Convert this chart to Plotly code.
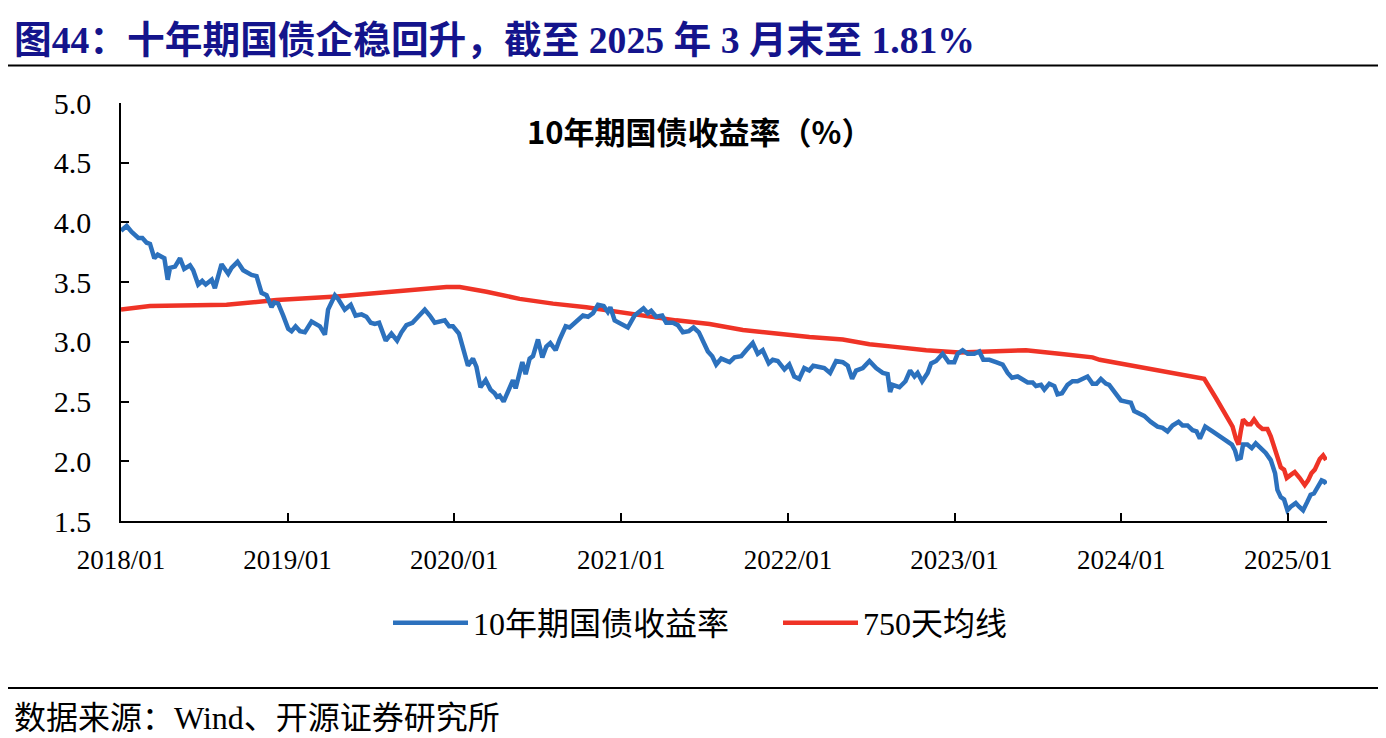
"""10年期国债收益率与750天均线."""
import pandas as pd
import plotly.graph_objects as go

# time is in years after 2018-01-01
bond_t = [
    0.000, 0.034, 0.064, 0.104, 0.128, 0.154, 0.174, 0.200, 0.220, 0.260,
    0.280, 0.294, 0.324, 0.354, 0.379, 0.414, 0.433, 0.463, 0.487, 0.508,
    0.544, 0.563, 0.603, 0.643, 0.663, 0.699, 0.733, 0.783, 0.813, 0.843,
    0.873, 0.903, 0.919, 0.943, 0.973, 1.003, 1.023, 1.047, 1.073, 1.103,
    1.143, 1.163, 1.193, 1.223, 1.242, 1.283, 1.302, 1.342, 1.378, 1.407,
    1.443, 1.472, 1.498, 1.522, 1.548, 1.588, 1.622, 1.656, 1.682, 1.712,
    1.748, 1.782, 1.822, 1.852, 1.882, 1.942, 1.968, 1.991, 2.027, 2.051,
    2.081, 2.111, 2.132, 2.156, 2.187, 2.216, 2.241, 2.255, 2.271, 2.295,
    2.321, 2.351, 2.367, 2.391, 2.407, 2.427, 2.451, 2.471, 2.501, 2.527,
    2.551, 2.575, 2.607, 2.631, 2.667, 2.691, 2.727, 2.771, 2.801, 2.831,
    2.861, 2.895, 2.920, 2.935, 2.961, 2.991, 3.020, 3.040, 3.080, 3.110,
    3.134, 3.160, 3.180, 3.210, 3.246, 3.270, 3.310, 3.340, 3.370, 3.406,
    3.434, 3.466, 3.500, 3.520, 3.546, 3.570, 3.600, 3.626, 3.650, 3.680,
    3.720, 3.750, 3.789, 3.819, 3.849, 3.885, 3.909, 3.939, 3.979, 4.008,
    4.038, 4.068, 4.098, 4.128, 4.152, 4.188, 4.218, 4.253, 4.289, 4.329,
    4.359, 4.385, 4.409, 4.449, 4.489, 4.529, 4.569, 4.598, 4.613, 4.628,
    4.669, 4.705, 4.733, 4.759, 4.778, 4.805, 4.838, 4.859, 4.889, 4.928,
    4.964, 4.998, 5.018, 5.048, 5.078, 5.118, 5.148, 5.172, 5.208, 5.248,
    5.288, 5.318, 5.344, 5.378, 5.408, 5.438, 5.468, 5.488, 5.518, 5.538,
    5.568, 5.598, 5.617, 5.644, 5.677, 5.707, 5.737, 5.767, 5.797, 5.827,
    5.851, 5.877, 5.907, 5.927, 5.967, 5.997, 6.027, 6.057, 6.077, 6.107,
    6.137, 6.177, 6.217, 6.247, 6.277, 6.307, 6.343, 6.367, 6.397, 6.427,
    6.451, 6.471, 6.503, 6.547, 6.587, 6.627, 6.663, 6.682, 6.696, 6.716,
    6.730, 6.756, 6.782, 6.806, 6.836, 6.866, 6.896, 6.922, 6.936, 6.956,
    6.976, 6.996, 7.016, 7.046, 7.066, 7.090, 7.115, 7.135, 7.155, 7.181,
    7.201, 7.218, 7.228,
]
bond_yield = [
    3.93, 3.97, 3.92, 3.87, 3.87, 3.83, 3.82, 3.70, 3.73, 3.70,
    3.52, 3.62, 3.63, 3.70, 3.61, 3.64, 3.60, 3.48, 3.51, 3.48,
    3.52, 3.45, 3.65, 3.57, 3.62, 3.67, 3.60, 3.56, 3.55, 3.41,
    3.39, 3.29, 3.33, 3.32, 3.22, 3.11, 3.09, 3.13, 3.09, 3.08,
    3.17, 3.15, 3.13, 3.06, 3.27, 3.39, 3.36, 3.27, 3.31, 3.22,
    3.23, 3.21, 3.16, 3.15, 3.16, 3.01, 3.07, 3.01, 3.08, 3.14,
    3.16, 3.21, 3.27, 3.22, 3.16, 3.18, 3.13, 3.13, 3.07, 2.95,
    2.80, 2.86, 2.79, 2.62, 2.68, 2.60, 2.57, 2.54, 2.55, 2.50,
    2.58, 2.68, 2.61, 2.73, 2.83, 2.73, 2.86, 2.88, 3.02, 2.87,
    2.96, 2.99, 2.93, 3.02, 3.13, 3.12, 3.16, 3.22, 3.21, 3.24,
    3.31, 3.30, 3.25, 3.29, 3.18, 3.16, 3.14, 3.12, 3.22, 3.26,
    3.28, 3.24, 3.26, 3.21, 3.22, 3.16, 3.16, 3.14, 3.08, 3.09,
    3.12, 3.08, 2.97, 2.92, 2.88, 2.81, 2.86, 2.84, 2.83, 2.87,
    2.88, 2.93, 2.99, 2.90, 2.93, 2.82, 2.85, 2.84, 2.77, 2.81,
    2.71, 2.69, 2.78, 2.76, 2.80, 2.79, 2.78, 2.74, 2.84, 2.83,
    2.80, 2.69, 2.76, 2.78, 2.84, 2.78, 2.74, 2.73, 2.58, 2.64,
    2.62, 2.67, 2.76, 2.71, 2.74, 2.67, 2.74, 2.82, 2.84, 2.90,
    2.83, 2.83, 2.90, 2.93, 2.90, 2.90, 2.92, 2.85, 2.85, 2.83,
    2.81, 2.74, 2.70, 2.71, 2.68, 2.66, 2.66, 2.63, 2.64, 2.60,
    2.65, 2.63, 2.56, 2.57, 2.64, 2.67, 2.67, 2.69, 2.71, 2.65,
    2.65, 2.69, 2.65, 2.64, 2.57, 2.51, 2.50, 2.49, 2.42, 2.40,
    2.38, 2.33, 2.29, 2.28, 2.25, 2.30, 2.33, 2.30, 2.30, 2.26,
    2.25, 2.19, 2.29, 2.25, 2.21, 2.18, 2.14, 2.09, 2.02, 2.03,
    2.14, 2.14, 2.11, 2.15, 2.11, 2.07, 2.01, 1.90, 1.76, 1.70,
    1.68, 1.59, 1.62, 1.65, 1.62, 1.59, 1.66, 1.72, 1.73, 1.80,
    1.84, 1.83, 1.81,
]

ma_t = [
    0.000, 0.174, 0.633, 0.933, 1.293, 1.632, 1.832, 1.952, 2.032, 2.192,
    2.391, 2.591, 2.791, 2.991, 3.130, 3.330, 3.530, 3.730, 3.930, 4.129,
    4.329, 4.489, 4.628, 4.829, 5.028, 5.228, 5.428, 5.628, 5.827, 5.870,
    6.027, 6.167, 6.307, 6.397, 6.497, 6.567, 6.647, 6.667, 6.687, 6.703,
    6.716, 6.730, 6.756, 6.776, 6.796, 6.821, 6.846, 6.876, 6.896, 6.916,
    6.936, 6.956, 6.976, 6.992, 7.010, 7.040, 7.070, 7.100, 7.120, 7.140,
    7.160, 7.190, 7.210, 7.222, 7.228,
]
ma_750 = [
    3.27, 3.30, 3.31, 3.35, 3.38, 3.42, 3.45, 3.46, 3.46, 3.42,
    3.36, 3.32, 3.29, 3.25, 3.22, 3.18, 3.15, 3.10, 3.07, 3.04,
    3.02, 2.98, 2.96, 2.93, 2.91, 2.92, 2.93, 2.90, 2.87, 2.85,
    2.81, 2.77, 2.74, 2.72, 2.69, 2.53, 2.35, 2.29, 2.19, 2.14,
    2.25, 2.35, 2.31, 2.31, 2.35, 2.30, 2.27, 2.27, 2.21, 2.12,
    2.01, 1.95, 1.93, 1.86, 1.88, 1.91, 1.86, 1.80, 1.84, 1.90,
    1.93, 2.02, 2.05, 2.03, 2.01,
]

y_ticks = [1.5, 2.0, 2.5, 3.0, 3.5, 4.0, 4.5, 5.0]
x_ticks = ['2018-01-01', '2019-01-01', '2020-01-01', '2021-01-01',
           '2022-01-01', '2023-01-01', '2024-01-01', '2025-01-01']


def to_dates(years):
    start = pd.Timestamp('2018-01-01')
    return [start + pd.to_timedelta(y * 365.25, unit='D') for y in years]


SERIF = 'Liberation Serif, Noto Sans CJK SC'
fig = go.Figure()
fig.add_trace(go.Scatter(x=to_dates(ma_t), y=ma_750, name='750天均线', mode='lines',
                         line=dict(color='#EF3326', width=4.5), legendrank=2))
fig.add_trace(go.Scatter(x=to_dates(bond_t), y=bond_yield, name='10年期国债收益率', mode='lines',
                         line=dict(color='#2C71BD', width=4.5), legendrank=1))

# page has an 8px body margin, so the figure is a bit smaller than the window
fig.update_layout(
    width=1378, height=730,
    margin=dict(l=113, r=59, t=95, b=217),
    paper_bgcolor='white', plot_bgcolor='white',
    font=dict(family=SERIF, color='black'),
    showlegend=True,
    legend=dict(orientation='h', x=0.2214, xanchor='left', y=-0.244, yanchor='middle',
                font=dict(size=32, family=SERIF), itemwidth=75, entrywidth=300,
                bgcolor='rgba(0,0,0,0)'),
)
fig.update_xaxes(
    range=['2018-01-01', '2025-03-27'], tickvals=x_ticks, tickformat='%Y/%m',
    showline=True, linecolor='black', linewidth=1.5, ticks='inside', ticklen=8,
    tickcolor='black', tickwidth=1.5, showgrid=False, zeroline=False,
    tickfont=dict(size=27, family=SERIF), ticklabelstandoff=14,
)
fig.update_yaxes(
    range=[1.5, 5.0], tickvals=y_ticks, tickformat='.1f',
    showline=True, linecolor='black', linewidth=1.5, ticks='inside', ticklen=8,
    tickcolor='black', tickwidth=1.5, showgrid=False, zeroline=False,
    tickfont=dict(size=30, family=SERIF), ticklabelstandoff=22,
)

# title, rules and notes
fig.add_annotation(text='<b>图44：十年期国债企稳回升，截至 2025 年 3 月末至 1.81%</b>',
                   xref='paper', yref='paper', x=-0.0904, y=1.1507, xanchor='left', yanchor='middle',
                   showarrow=False, font=dict(size=37.7, color='#14148C', family=SERIF))
fig.add_annotation(text='<b>10年期国债收益率（%）</b>', xref='paper', yref='paper',
                   x=0.480, y=0.935, xanchor='center', yanchor='middle', showarrow=False,
                   font=dict(size=31, family='Noto Sans CJK SC'))
fig.add_annotation(text='数据来源：Wind、开源证券研究所', xref='paper', yref='paper',
                   x=-0.0904, y=-0.471, xanchor='left', yanchor='middle', showarrow=False,
                   font=dict(size=32, family=SERIF))
fig.add_shape(type='line', xref='paper', yref='paper', x0=-0.0937, x1=1.0423, y0=1.0897, y1=1.0897,
              line=dict(color='black', width=2))
fig.add_shape(type='line', xref='paper', yref='paper', x0=-0.0937, x1=1.0423, y0=-0.3995, y1=-0.3995,
              line=dict(color='black', width=2))

fig.write_html("out.html")
